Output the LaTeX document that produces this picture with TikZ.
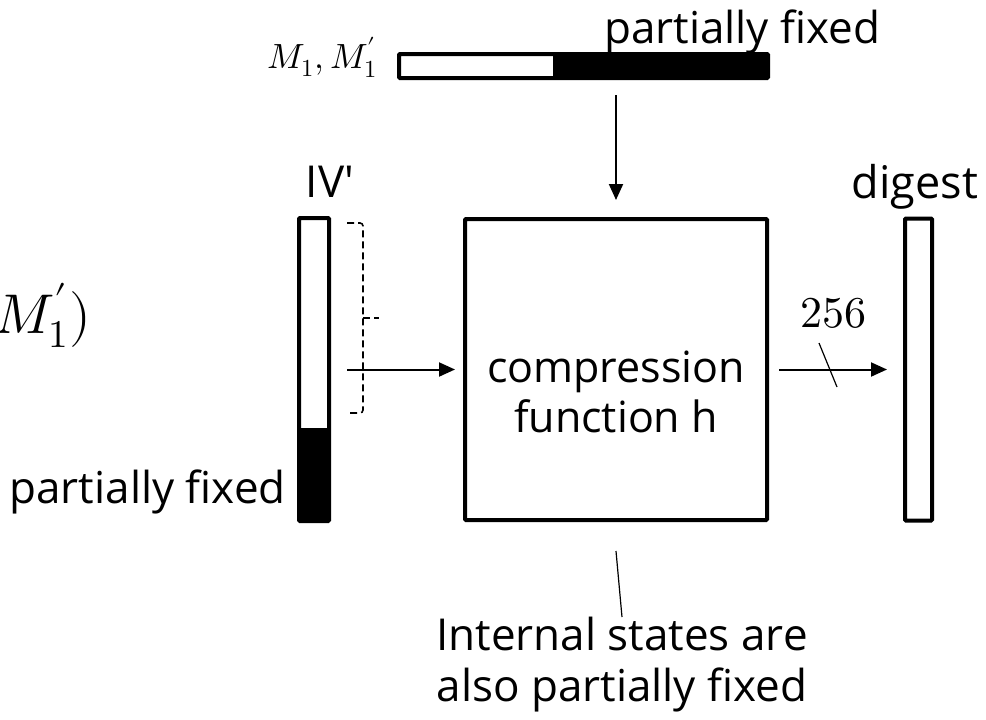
\documentclass[tikz,border=0pt]{standalone}
\usepackage{fontspec}
\usepackage{unicode-math}
\setmainfont{Open Sans}
\setmathfont{Latin Modern Math}
\usetikzlibrary{arrows.meta}
\tikzset{
  barbox/.style={draw, line width=4pt, rounded corners=1pt, inner sep=0pt},
  txt/.style={font=\fontsize{44}{51}\selectfont, inner sep=0pt},
  arr/.style={-{Triangle[length=16pt,width=14pt]}, line width=2pt},
  thin/.style={line width=1.2pt},
  brace/.style={line width=1.6pt, dash pattern=on 7pt off 4pt, rounded corners=3pt}
}
\begin{document}
\begin{tikzpicture}[x=1pt,y=-1pt]
\useasboundingbox (0,0) rectangle (986,720);
\clip (0,0) rectangle (986,720);

% top message bar
\fill (553,54) rectangle (768,78);
\node[barbox, minimum width=369pt, minimum height=24pt] (mbar) at (583.5,66) {};
\node[anchor=base east, inner sep=0pt, font=\fontsize{35}{42}\selectfont] (mlab) at (377,68) {$M_1, M_1^{\prime}$};
\node[txt, anchor=base west] (ptop) at (604,43) {partially fixed};

% IV bar
\fill (299,428) rectangle (329,521);
\node[barbox, minimum width=30pt, minimum height=303pt] (iv) at (314,369.5) {};
\node[txt, anchor=base] (ivlab) at (330,197) {IV\textquotesingle};
\node[txt, anchor=base east] (pleft) at (286,503) {partially fixed};

% left partial label (cut by the left edge, as in the reference)
\node[anchor=base east, inner sep=0pt, font=\fontsize{56}{64}\selectfont] (lpart) at (91,333) {$M_1^{\prime})$};

% dashed brace
\draw[brace] (347,223) -- (363,223) -- (363,413) -- (347,413);
\draw[brace, rounded corners=0pt] (363,318) -- (379,318);

% compression box
\node[barbox, minimum width=302pt, minimum height=301pt] (box) at (616,369.5) {};
\node[txt, font=\fontsize{43}{50}\selectfont, align=center] (boxlab) at (616,392) {compression\\function h};

% digest bar
\node[barbox, minimum width=27pt, minimum height=302pt] (dig) at (918.5,369.5) {};
\node[txt, font=\fontsize{45}{51}\selectfont, anchor=base] (diglab) at (915,198) {digest};

% arrows
\coordinate (ivout) at (347,369.5);
\draw[arr, shorten >=8pt] (ivout) -- (box.west);
\draw[arr, shorten <=10pt, shorten >=16pt] (box.east) -- (dig.west);
\draw[arr, shorten <=15pt, shorten >=17pt] (box.north |- mbar.south) -- (box.north);

% width label
\coordinate (s1) at (819,343);
\coordinate (s2) at (837,387);
\draw[thin] (s1) -- (s2);
\node[inner sep=0pt, anchor=base, font=\fontsize{44}{50}\selectfont] (w) at (833,327) {$256$};

% internal states note
\node[txt, align=center, anchor=north] (note) at (622,617) {Internal states are\\also partially fixed};
\coordinate (c1) at (616,551);
\draw[thin] (c1) -- (note.north);
\end{tikzpicture}
\end{document}
